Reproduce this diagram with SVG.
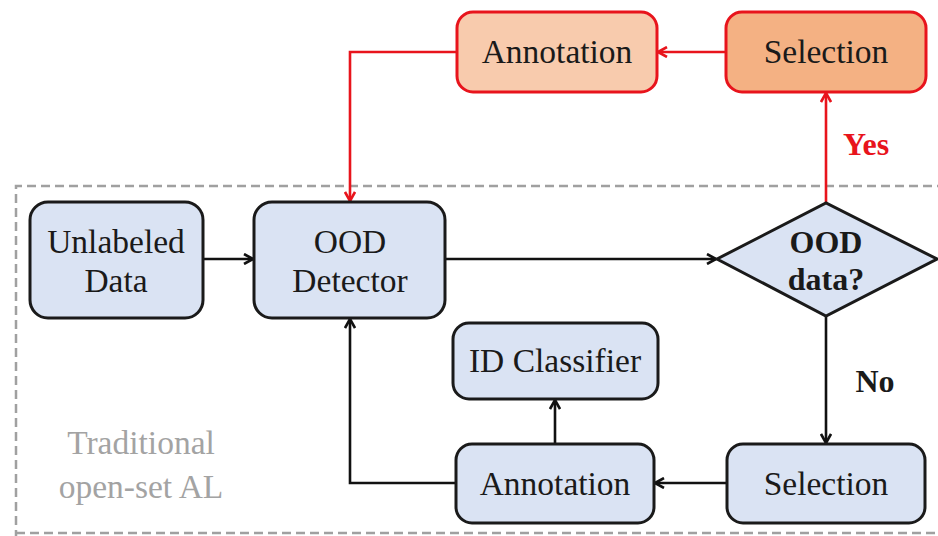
<svg xmlns="http://www.w3.org/2000/svg" width="938" height="536" viewBox="0 0 938 536">
<defs>
<marker id="ab" viewBox="0 0 12 12" refX="11" refY="6" markerWidth="12" markerHeight="12" markerUnits="userSpaceOnUse" orient="auto">
<path d="M2,1 L11,6 L2,11" fill="none" stroke="#111" stroke-width="2.6"/>
</marker>
<marker id="ar" viewBox="0 0 12 12" refX="11" refY="6" markerWidth="12" markerHeight="12" markerUnits="userSpaceOnUse" orient="auto">
<path d="M2,1 L11,6 L2,11" fill="none" stroke="#e8141c" stroke-width="2.6"/>
</marker>
</defs>
<style>
.box{fill:#dae3f3;stroke:#1a1a1a;stroke-width:3}
.rb1{fill:#f8cbad;stroke:#e8141c;stroke-width:3}
.rb2{fill:#f4b183;stroke:#e8141c;stroke-width:3}
text{font-family:'Liberation Serif','DejaVu Serif',serif}
.t{font-size:33.5px;fill:#1a1a1a;text-anchor:middle}
.tb{font-size:32px;font-weight:bold;fill:#1a1a1a;text-anchor:middle}
.cb{fill:none;stroke:#111;stroke-width:2.6}
.cr{fill:none;stroke:#e8141c;stroke-width:2.6}
</style>
<rect width="938" height="536" fill="#ffffff"/>
<g id="region">
<path d="M960,186 L16,186 L16,560" fill="none" stroke="#a0a0a0" stroke-width="2.5" stroke-dasharray="9,5"/>
<path d="M16,533 L960,533" fill="none" stroke="#a0a0a0" stroke-width="2.5" stroke-dasharray="9,5"/>
<text class="t" x="141" y="454" style="fill:#a3a3a3">Traditional</text>
<text class="t" x="141" y="498" style="fill:#a3a3a3">open-set AL</text>
</g>
<g id="connectors">
<path class="cb" d="M203,259 L253,259" marker-end="url(#ab)"/>
<path class="cb" d="M445,259 L716,259" marker-end="url(#ab)"/>
<path class="cb" d="M826,316 L826,443" marker-end="url(#ab)"/>
<path class="cb" d="M727,483 L655,483" marker-end="url(#ab)"/>
<path class="cb" d="M555,444 L555,400" marker-end="url(#ab)"/>
<path class="cb" d="M456,483 L350,483 L350,319" marker-end="url(#ab)"/>
<path class="cr" d="M826,203 L826,93" marker-end="url(#ar)"/>
<path class="cr" d="M726,52 L658,52" marker-end="url(#ar)"/>
<path class="cr" d="M457,52 L350,52 L350,201" marker-end="url(#ar)"/>
<text class="tb" x="866" y="155" style="fill:#e8141c">Yes</text>
<text class="tb" x="875" y="392">No</text>
</g>
<g id="unlabeled">
<rect class="box" x="30" y="202" width="173" height="116" rx="18"/>
<text class="t" x="116" y="253">Unlabeled</text>
<text class="t" x="116" y="292">Data</text>
</g>
<g id="ood-detector">
<rect class="box" x="254" y="202" width="191" height="116" rx="18"/>
<text class="t" x="350" y="253">OOD</text>
<text class="t" x="350" y="292">Detector</text>
</g>
<g id="ood-decision">
<polygon class="box" points="717,259 826,203 937,259 826,316"/>
<text class="tb" x="826" y="253">OOD</text>
<text class="tb" x="826" y="290">data?</text>
</g>
<g id="annotation-top">
<rect class="rb1" x="457" y="12" width="200" height="80" rx="16"/>
<text class="t" x="557" y="63">Annotation</text>
</g>
<g id="selection-top">
<rect class="rb2" x="726" y="12" width="200" height="80" rx="16"/>
<text class="t" x="826" y="63">Selection</text>
</g>
<g id="id-classifier">
<rect class="box" x="453" y="323" width="205" height="76" rx="16"/>
<text class="t" x="555" y="372">ID Classifier</text>
</g>
<g id="annotation-bottom">
<rect class="box" x="456" y="444" width="198" height="79" rx="16"/>
<text class="t" x="555" y="495">Annotation</text>
</g>
<g id="selection-bottom">
<rect class="box" x="727" y="444" width="198" height="79" rx="16"/>
<text class="t" x="826" y="495">Selection</text>
</g>
</svg>
